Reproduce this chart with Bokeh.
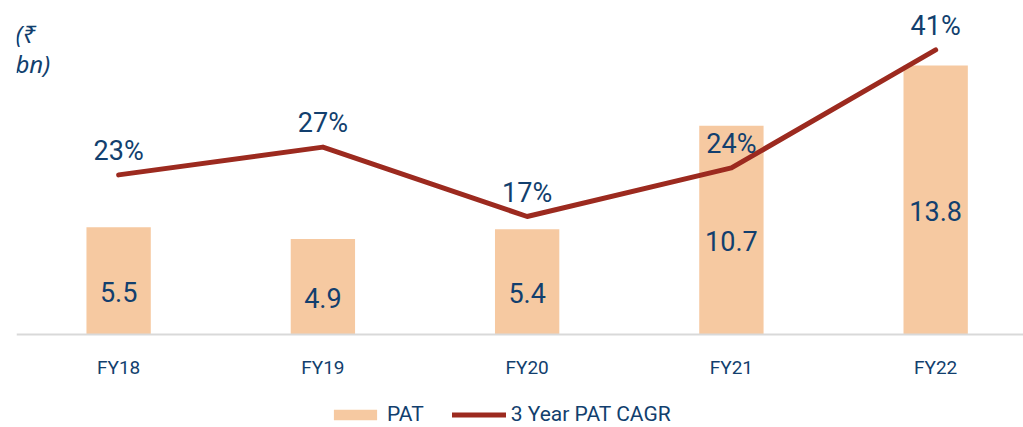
from bokeh.plotting import figure
from bokeh.models import (ColumnDataSource, Range1d, Legend, LegendItem, Label, Span)
from bokeh.core.properties import value
from bokeh.embed import file_html
from bokeh.resources import INLINE

categories = ["FY18", "FY19", "FY20", "FY21", "FY22"]
pat = [5.5, 4.9, 5.4, 10.7, 13.8]
cagr = [23, 27, 17, 24, 41]
pat_labels = ["5.5", "4.9", "5.4", "10.7", "13.8"]
cagr_labels = ["23%", "27%", "17%", "24%", "41%"]

BAR = "#F6C9A1"
LINE = "#9C2A1F"
TXT = "#123F6E"
FONT = "Roboto"

xs = list(range(len(categories)))
src = ColumnDataSource(dict(x=xs, pat=pat, half=[v / 2 for v in pat], cagr=cagr,
                            pl=pat_labels, cl=cagr_labels, cat=categories,
                            zero=[0] * len(categories)))

p = figure(frame_width=1007, frame_height=419, output_backend="svg", toolbar_location=None,
           x_range=Range1d(-0.5, 4.43), y_range=Range1d(-4.77, 16.72),
           min_border_left=16, min_border_right=0, min_border_top=8, min_border_bottom=0)
p.extra_y_ranges = {"pct": Range1d(-13.4, 46.97)}
p.outline_line_color = None
p.grid.visible = False
p.axis.visible = False
p.background_fill_color = "white"
p.border_fill_color = "white"

p.add_layout(Span(location=0, dimension="width", line_color="#D9D9D9", line_width=2))

bars = p.vbar(x="x", top="pat", bottom=0, width=0.315, source=src,
              fill_color=BAR, line_color=None)
line = p.line(x="x", y="cagr", source=src, y_range_name="pct", line_color=LINE,
              line_width=5, line_cap="round", line_join="round")

p.text(x="x", y="half", text="pl", source=src, text_align="center",
       text_baseline="alphabetic", y_offset=11, text_color=TXT,
       text_font=value(FONT), text_font_size="27px")
p.text(x="x", y="cagr", text="cl", source=src, y_range_name="pct", text_align="center",
       text_baseline="alphabetic", y_offset=-24, text_color=TXT,
       text_font=value(FONT), text_font_size="27px")
# category (tick) labels below the baseline
p.text(x="x", y="zero", text="cat", source=src, text_align="center",
       text_baseline="middle", y_offset=33, text_color=TXT,
       text_font=value(FONT), text_font_size="19px")

p.add_layout(Label(x=-0.505, y=15.44, text="(₹", text_font="Noto Sans",
                   text_baseline="alphabetic",
                   text_font_style="italic", text_font_size="24px", text_color=TXT))
p.add_layout(Label(x=-0.505, y=13.9, text="bn)", text_font="Noto Sans",
                   text_baseline="alphabetic",
                   text_font_style="italic", text_font_size="24px", text_color=TXT))

legend = Legend(items=[LegendItem(label="PAT", renderers=[bars]),
                       LegendItem(label="3 Year PAT CAGR", renderers=[line])],
                orientation="horizontal", location=(312, 1),
                glyph_width=54, glyph_height=13, label_standoff=5, spacing=28,
                label_text_font=FONT, label_text_font_size="21px", label_text_color=TXT,
                border_line_color=None, background_fill_alpha=0, padding=0, margin=0)
p.add_layout(legend, "center")

open("out.html", "w").write(file_html(p, INLINE))
